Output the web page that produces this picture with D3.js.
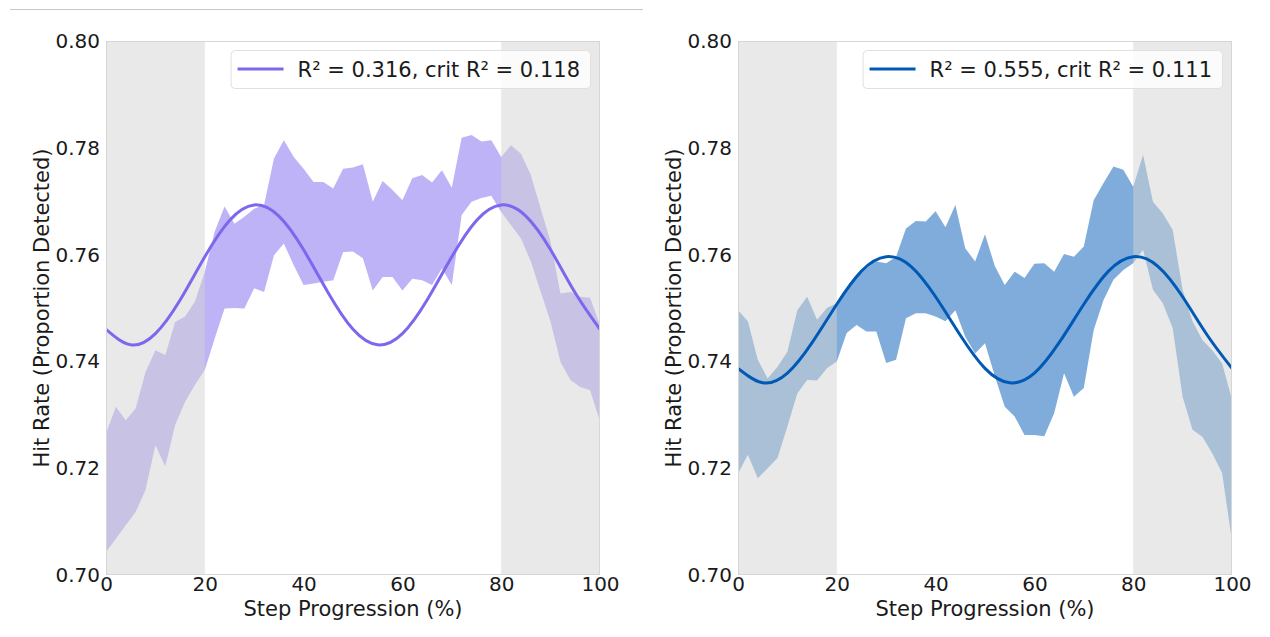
<!DOCTYPE html>
<html>
<head>
<meta charset="utf-8">
<script src="https://cdn.jsdelivr.net/npm/d3@7/dist/d3.min.js"></script>
<style>
  html, body { margin: 0; padding: 0; background: #ffffff; }
  svg { display: block; font-family: "DejaVu Sans", sans-serif; }
</style>
</head>
<body>
<svg id="chart" width="1270" height="637"></svg>
<script>
// Step progression grid (%) for the confidence bands
const stepPct = [0,2,4,6,8,10,12,14,16,18,20,22,24,26,28,30,32,34,36,38,40,42,44,46,48,50,
                 52,54,56,58,60,62,64,66,68,70,72,74,76,78,80,82,84,86,88,90,92,94,96,98,100];

// Left panel: band bounds of hit rate
const leftUpper = [0.7265,0.7315,0.7290,0.7312,0.7380,0.7421,0.7412,0.7474,0.7484,0.7512,0.7568,
                   0.7643,0.7690,0.7658,0.7671,0.7686,0.7693,0.7780,0.7814,0.7783,0.7761,
                   0.7736,0.7736,0.7724,0.7761,0.7763,0.7769,0.7699,0.7738,0.7721,0.7702,
                   0.7743,0.7749,0.7735,0.7758,0.7725,0.7819,0.7824,0.7812,0.7814,0.7783,
                   0.7805,0.7789,0.7749,0.7686,0.7624,0.7527,0.7530,0.7521,0.7519,0.7468];
const leftLower = [0.7043,0.7068,0.7093,0.7118,0.7159,0.7243,0.7203,0.7281,0.7324,0.7356,0.7384,
                   0.7443,0.7499,0.7500,0.7499,0.7537,0.7530,0.7599,0.7621,0.7580,0.7543,
                   0.7546,0.7549,0.7552,0.7605,0.7606,0.7593,0.7533,0.7558,0.7558,0.7533,
                   0.7555,0.7552,0.7543,0.7574,0.7543,0.7674,0.7699,0.7706,0.7710,0.7680,
                   0.7655,0.7630,0.7587,0.7530,0.7474,0.7399,0.7365,0.7352,0.7346,0.7287];

// Right panel: band bounds of hit rate
const rightUpper = [0.7496,0.7475,0.7403,0.7368,0.7390,0.7418,0.7496,0.7521,0.7478,0.7500,0.7509,
                    0.7534,0.7556,0.7574,0.7587,0.7584,0.7596,0.7649,0.7663,0.7662,0.7681,
                    0.7651,0.7693,0.7612,0.7587,0.7638,0.7578,0.7543,0.7568,0.7556,0.7583,
                    0.7584,0.7568,0.7601,0.7596,0.7615,0.7702,0.7734,0.7765,0.7759,0.7727,
                    0.7787,0.7699,0.7677,0.7646,0.7534,0.7475,0.7440,0.7421,0.7396,0.7328];
const rightLower = [0.7190,0.7225,0.7181,0.7200,0.7219,0.7278,0.7340,0.7365,0.7364,0.7387,0.7400,
                    0.7453,0.7468,0.7456,0.7456,0.7397,0.7403,0.7481,0.7490,0.7490,0.7484,
                    0.7475,0.7496,0.7446,0.7415,0.7434,0.7372,0.7315,0.7297,0.7262,0.7262,
                    0.7260,0.7303,0.7378,0.7334,0.7350,0.7459,0.7515,0.7553,0.7571,0.7584,
                    0.7609,0.7534,0.7509,0.7462,0.7334,0.7272,0.7259,0.7228,0.7191,0.7063];

// Fitted periodic curves, sampled every 5 %
const fitPct = [0,5,10,15,20,25,30,35,40,45,50,55,60,65,70,75,80,85,90,95,100];
const leftFit  = [0.7460,0.7431,0.7452,0.7515,0.7596,0.7664,0.7693,0.7672,0.7609,0.7528,0.7460,
                  0.7431,0.7452,0.7515,0.7596,0.7664,0.7693,0.7672,0.7609,0.7528,0.7460];
const rightFit = [0.7387,0.7360,0.7378,0.7435,0.7507,0.7569,0.7596,0.7578,0.7521,0.7449,0.7387,
                  0.7360,0.7378,0.7435,0.7507,0.7569,0.7596,0.7578,0.7521,0.7449,0.7387];

// Excluded phases at both ends of the step
const shadedSpans = [[0, 20], [80, 100]];

const xTicks = [0, 20, 40, 60, 80, 100];
const yTicks = [0.70, 0.72, 0.74, 0.76, 0.78, 0.80];

const legendLabels = ["R\u00B2 = 0.316, crit R\u00B2 = 0.118", "R\u00B2 = 0.555, crit R\u00B2 = 0.111"];
const panelColors = ["#7B68EE", "#005AB5"];

const svg = d3.select("#chart");
const FS = 21;      // titles and legend
const TICK_FS = 20; // tick labels

// thin rule along the top edge
svg.append("line")
  .attr("x1", 10).attr("x2", 643).attr("y1", 9.5).attr("y2", 9.5)
  .attr("stroke", "#c8c8c8").attr("stroke-width", 1);

const plotTop = 41, plotBottom = 575, plotW = 494;

function drawPanel(left, upper, lower, fit, color, label) {
  const x = d3.scaleLinear().domain([0, 100]).range([left, left + plotW]);
  const y = d3.scaleLinear().domain([0.70, 0.80]).range([plotBottom, plotTop]);
  const g = svg.append("g");

  const clipId = "clip" + left;
  g.append("clipPath").attr("id", clipId)
    .append("rect").attr("x", left).attr("y", plotTop)
    .attr("width", plotW).attr("height", plotBottom - plotTop);

  const plot = g.append("g").attr("clip-path", `url(#${clipId})`);

  // confidence band
  const bandRows = stepPct.map((p, i) => ({ p, hi: upper[i], lo: lower[i] }));
  plot.append("path")
    .datum(bandRows)
    .attr("d", d3.area().x(d => x(d.p)).y0(d => y(d.lo)).y1(d => y(d.hi)))
    .attr("fill", color).attr("fill-opacity", 0.5);

  // shaded end phases, laid over the band
  plot.selectAll("rect.span")
    .data(shadedSpans).join("rect").attr("class", "span")
    .attr("x", d => x(d[0])).attr("width", d => x(d[1]) - x(d[0]))
    .attr("y", plotTop).attr("height", plotBottom - plotTop)
    .attr("fill", "#d3d3d3").attr("fill-opacity", 0.5);

  // fitted curve
  const fitRows = fitPct.map((p, i) => ({ p, v: fit[i] }));
  plot.append("path")
    .datum(fitRows)
    .attr("d", d3.line().x(d => x(d.p)).y(d => y(d.v)).curve(d3.curveNatural))
    .attr("fill", "none").attr("stroke", color).attr("stroke-width", 3)
    .attr("stroke-linecap", "round");

  // frame
  g.append("rect")
    .attr("x", left + 0.5).attr("y", plotTop + 0.5)
    .attr("width", plotW - 1).attr("height", plotBottom - plotTop - 1)
    .attr("fill", "none").attr("stroke", "#d6d6d6").attr("stroke-width", 1);

  // axes
  const yAxis = g.append("g").attr("transform", `translate(${left},0)`)
    .call(d3.axisLeft(y).tickValues(yTicks).tickFormat(d3.format(".2f")).tickSize(0).tickPadding(6));
  const xAxis = g.append("g").attr("transform", `translate(0,${plotBottom})`)
    .call(d3.axisBottom(x).tickValues(xTicks).tickFormat(d3.format("d")).tickSize(0).tickPadding(2));
  [yAxis, xAxis].forEach(a => {
    a.select(".domain").remove();
    a.selectAll("text").attr("font-size", TICK_FS).attr("fill", "#1a1a1a")
      .attr("font-family", "DejaVu Sans, sans-serif");
  });

  // axis titles
  g.append("text")
    .attr("x", left + plotW / 2).attr("y", 616)
    .attr("text-anchor", "middle").attr("font-size", FS).attr("fill", "#1a1a1a")
    .text("Step Progression (%)");
  g.append("text")
    .attr("transform", `translate(${left - 57},${(plotTop + plotBottom) / 2}) rotate(-90)`)
    .attr("text-anchor", "middle").attr("font-size", FS).attr("fill", "#1a1a1a")
    .text("Hit Rate (Proportion Detected)");

  // legend
  const lgRight = left + plotW - 10;
  const lg = g.append("g");
  const txt = lg.append("text")
    .attr("y", 77).attr("font-size", FS).attr("fill", "#1a1a1a")
    .text(label);
  const tw = txt.node().getComputedTextLength();
  const textX = lgRight - 10 - tw;
  txt.attr("x", textX);
  const boxX = textX - 67;
  lg.insert("rect", "text")
    .attr("x", boxX + 0.5).attr("y", 50.5)
    .attr("width", lgRight - boxX).attr("height", 38)
    .attr("rx", 4)
    .attr("fill", "#ffffff").attr("fill-opacity", 0.8)
    .attr("stroke", "#e0e0e0").attr("stroke-width", 1);
  lg.append("line")
    .attr("x1", boxX + 7).attr("x2", boxX + 53).attr("y1", 69).attr("y2", 69)
    .attr("stroke", color).attr("stroke-width", 3);
}

drawPanel(106, leftUpper, leftLower, leftFit, panelColors[0], legendLabels[0]);
drawPanel(738, rightUpper, rightLower, rightFit, panelColors[1], legendLabels[1]);
</script>
</body>
</html>
